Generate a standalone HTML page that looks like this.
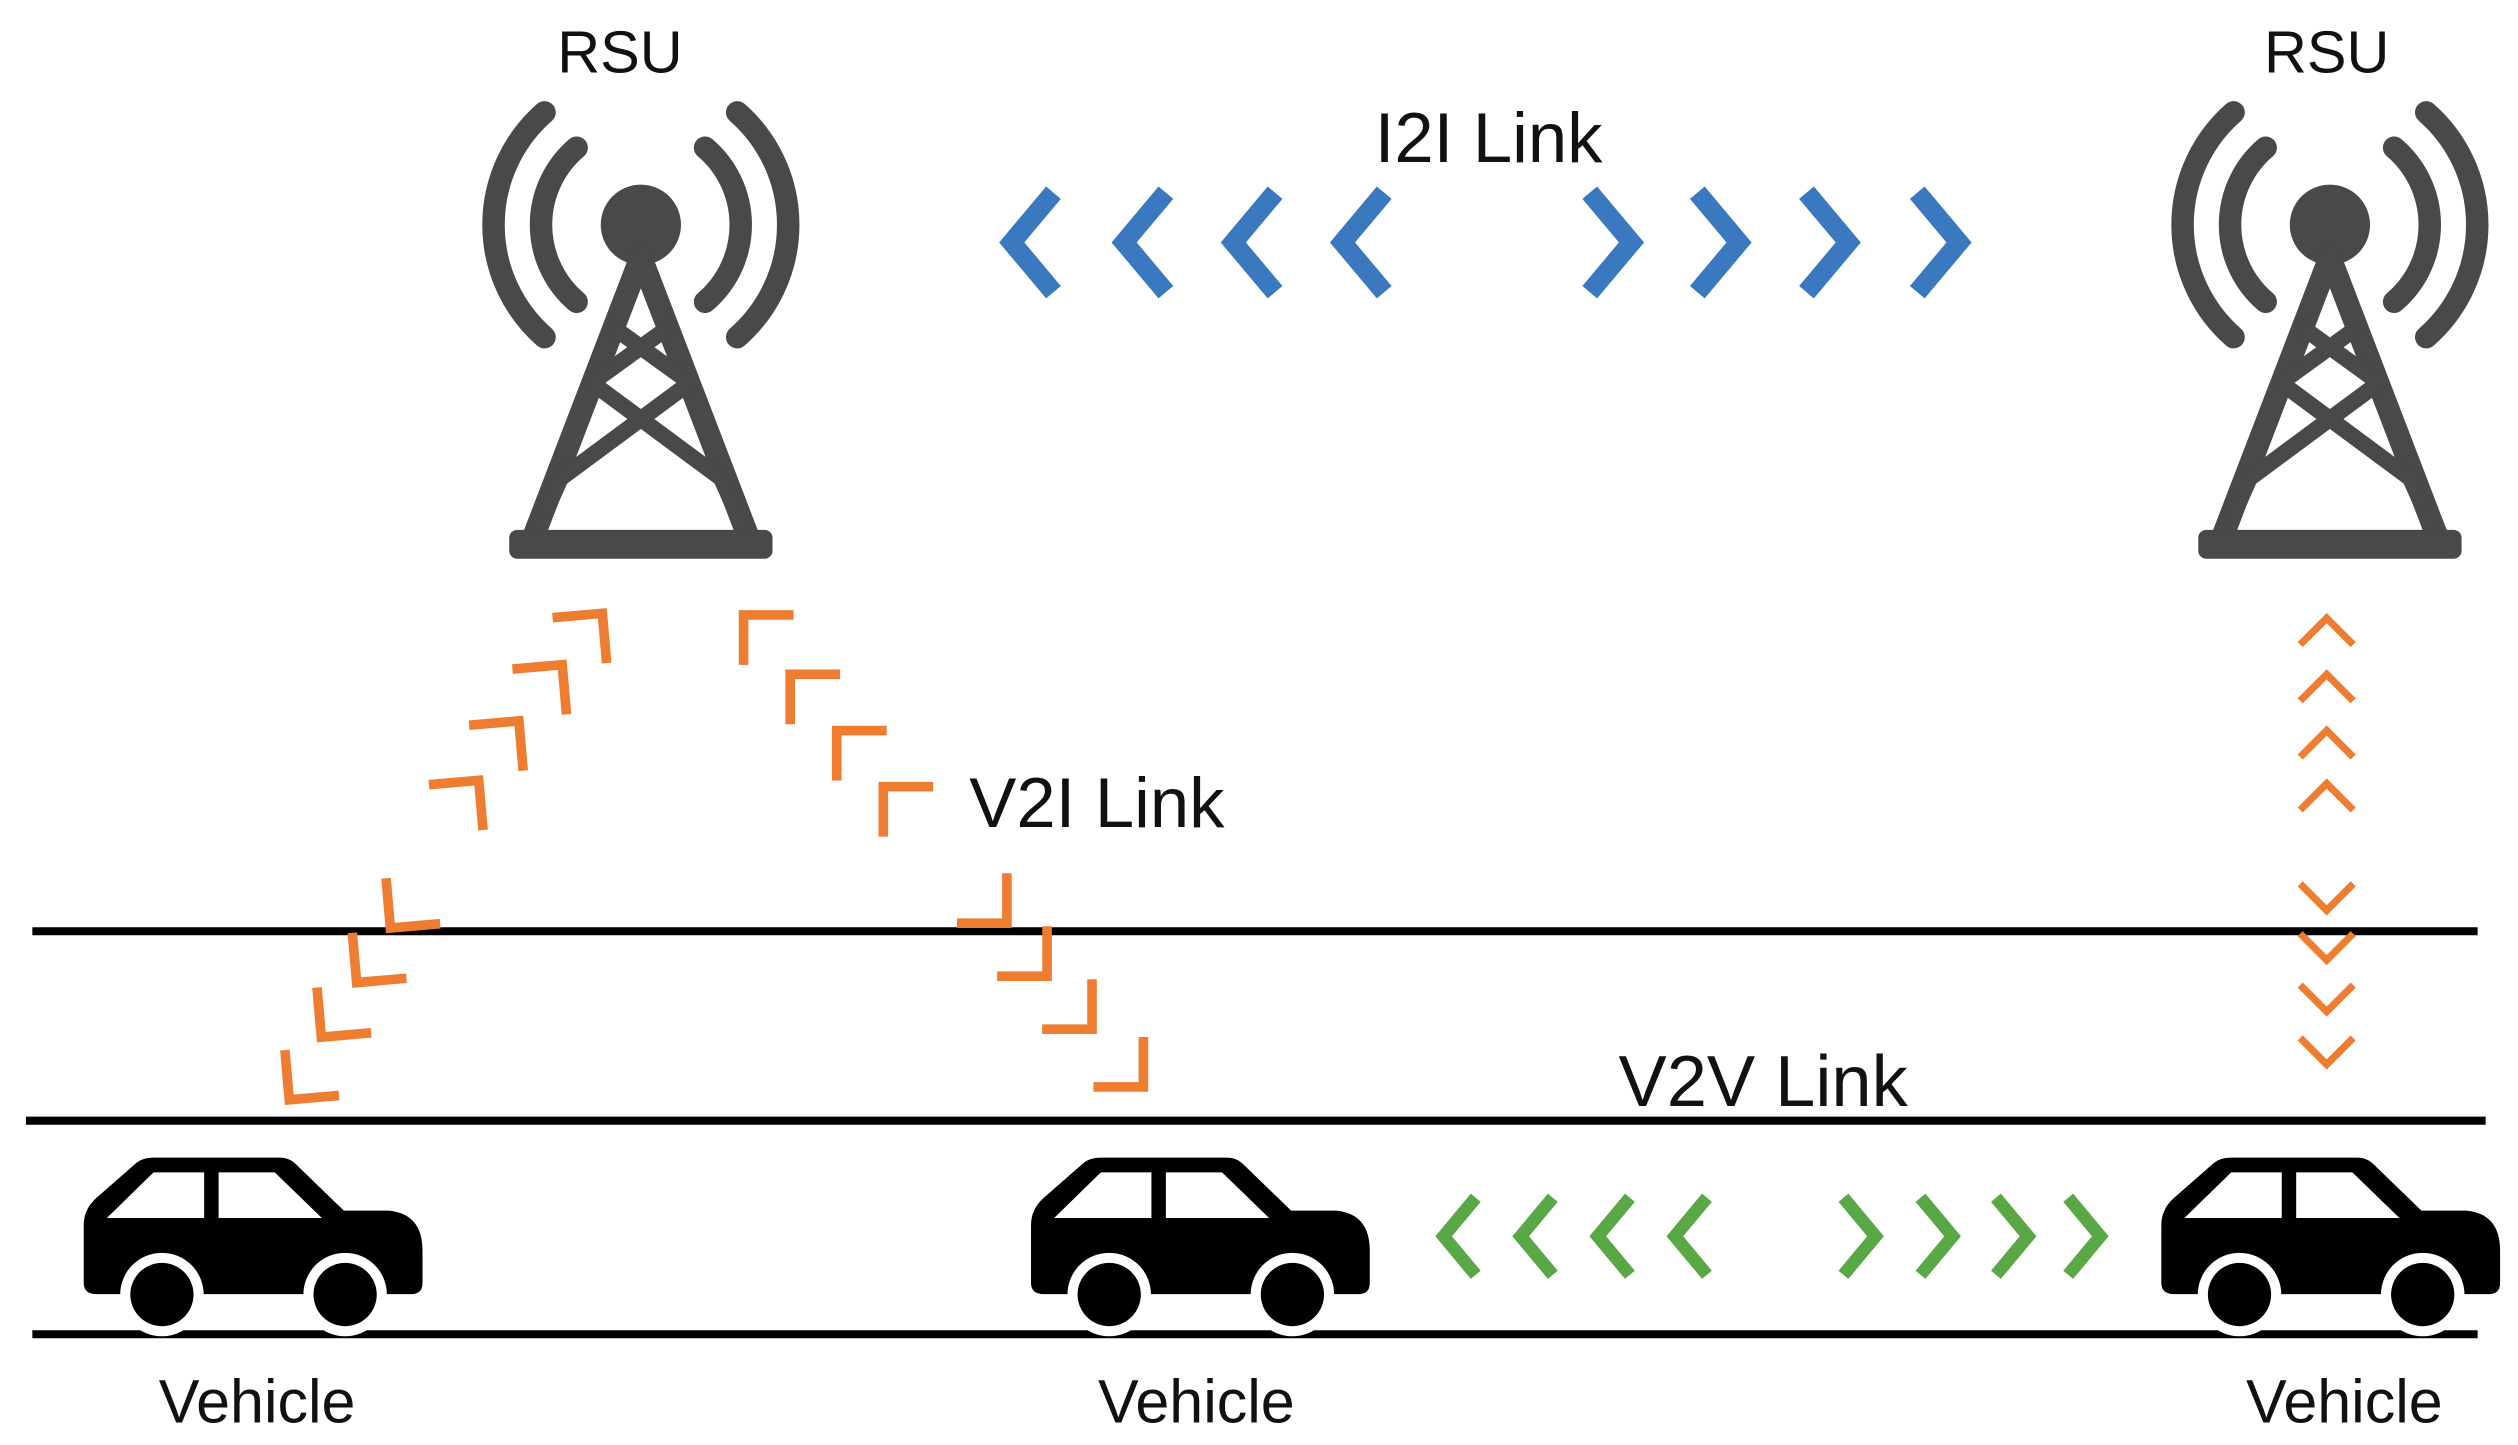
<!DOCTYPE html>
<html><head><meta charset="utf-8"><style>html,body{margin:0;padding:0;background:#fff}svg{display:block}</style></head>
<body>
<svg width="2518" height="1445" viewBox="0 0 1568 900" xmlns="http://www.w3.org/2000/svg" font-family="Liberation Sans, sans-serif">
<defs>
<g id="tower" fill="none" stroke="#48494b" stroke-linecap="round" stroke-linejoin="round">
  <circle cx="0" cy="0" r="25" fill="#48494b" stroke="none"/>
  <path d="M-40,-48 A63,63 0 0 0 -40,48" stroke-width="14"/>
  <path d="M40,-48 A63,63 0 0 1 40,48" stroke-width="14"/>
  <path d="M-60,-70 A93,93 0 0 0 -60,70" stroke-width="14"/>
  <path d="M60,-70 A93,93 0 0 1 60,70" stroke-width="14"/>
  <path d="M0,20 L-66,192 M0,20 L66,192" stroke-width="14"/>
  <path d="M-17,64 L30,98 M17,64 L-30,98 M-31,98 L50,158 M31,98 L-50,158 M-50,158 L-62,185 M50,158 L62,185" stroke-width="10"/>
  <rect x="-82" y="190" width="164" height="18" rx="5" fill="#48494b" stroke="none"/>
</g>
<g id="car">
  <path d="M0,42 Q0,32 8,25 L32,4 Q36,0 44,0 L122,0 Q128,0 132,4 L162,33 L190,33 Q211,35 211,58 L211,78 Q211,85 204,85 L8,85 Q0,85 0,78 Z" fill="#000"/>
  <polygon points="14.4,37.6 43.5,9.2 75,9.2 75,37.6" fill="#fff"/>
  <polygon points="84,9.2 119,9.2 148.3,37.6 84,37.6" fill="#fff"/>
  <circle cx="48.7" cy="85.3" r="26" fill="#fff"/>
  <circle cx="162.8" cy="85.3" r="26" fill="#fff"/>
  <circle cx="48.7" cy="85.3" r="19.7" fill="#000"/>
  <circle cx="162.8" cy="85.3" r="19.7" fill="#000"/>
</g>
<polyline id="chB" points="-26,-31 0,0 -26,31" fill="none" stroke="#3a78c0" stroke-width="12"/>
<polyline id="chG" points="-20,-24 0,0 -20,24" fill="none" stroke="#5aa845" stroke-width="8"/>
<polyline id="chO" points="-22,-22 0,0 -22,22" fill="none" stroke="#ef7d31" stroke-width="6"/>
</defs>

<g stroke="#000" stroke-width="5">
<line x1="20" y1="580" x2="1543" y2="580"/>
<line x1="16" y1="698" x2="1548" y2="698"/>
<line x1="20" y1="831" x2="1543" y2="831"/>
</g>

<use href="#tower" x="399" y="140"/>
<use href="#tower" x="1451" y="140"/>

<use href="#car" x="52" y="721"/>
<use href="#car" x="642" y="721"/>
<use href="#car" x="1346" y="721"/>

<g transform="translate(0,151)">
<use href="#chB" transform="translate(630,0) rotate(180)"/>
<use href="#chB" transform="translate(700,0) rotate(180)"/>
<use href="#chB" transform="translate(768,0) rotate(180)"/>
<use href="#chB" transform="translate(836,0) rotate(180)"/>
<use href="#chB" x="1016"/>
<use href="#chB" x="1083"/>
<use href="#chB" x="1151"/>
<use href="#chB" x="1220"/>
</g>
<g transform="translate(0,770)">
<use href="#chG" transform="translate(899,0) rotate(180)"/>
<use href="#chG" transform="translate(947,0) rotate(180)"/>
<use href="#chG" transform="translate(995,0) rotate(180)"/>
<use href="#chG" transform="translate(1043,0) rotate(180)"/>
<use href="#chG" x="1168"/>
<use href="#chG" x="1216"/>
<use href="#chG" x="1263"/>
<use href="#chG" x="1308"/>
</g>
<use href="#chO" transform="translate(375,382) rotate(-50)"/>
<use href="#chO" transform="translate(350,414) rotate(-50)"/>
<use href="#chO" transform="translate(323,449) rotate(-50)"/>
<use href="#chO" transform="translate(298,486) rotate(-50)"/>
<use href="#chO" transform="translate(243,578) rotate(130)"/>
<use href="#chO" transform="translate(222,612) rotate(130)"/>
<use href="#chO" transform="translate(200,646) rotate(130)"/>
<use href="#chO" transform="translate(180,685) rotate(130)"/>
<use href="#chO" transform="translate(463,383) rotate(-135)"/>
<use href="#chO" transform="translate(492,420) rotate(-135)"/>
<use href="#chO" transform="translate(521,455) rotate(-135)"/>
<use href="#chO" transform="translate(550,490) rotate(-135)"/>
<use href="#chO" transform="translate(627,575) rotate(45)"/>
<use href="#chO" transform="translate(652,608) rotate(45)"/>
<use href="#chO" transform="translate(680,641) rotate(45)"/>
<use href="#chO" transform="translate(712,677) rotate(45)"/>
<use href="#chO" transform="translate(1449,385) rotate(-90) scale(0.75)"/>
<use href="#chO" transform="translate(1449,420) rotate(-90) scale(0.75)"/>
<use href="#chO" transform="translate(1449,455) rotate(-90) scale(0.75)"/>
<use href="#chO" transform="translate(1449,488) rotate(-90) scale(0.75)"/>
<use href="#chO" transform="translate(1449,567) rotate(90) scale(0.75)"/>
<use href="#chO" transform="translate(1449,598) rotate(90) scale(0.75)"/>
<use href="#chO" transform="translate(1449,630) rotate(90) scale(0.75)"/>
<use href="#chO" transform="translate(1449,663) rotate(90) scale(0.75)"/>

<g fill="#111" text-anchor="middle">
<text x="386" y="45" font-size="37">RSU</text>
<text x="1449" y="45" font-size="37">RSU</text>
<text x="927" y="101" font-size="44">I2I Link</text>
<text x="683" y="515" font-size="44">V2I Link</text>
<text x="1098" y="689" font-size="45">V2V Link</text>
<text x="160" y="886" font-size="38">Vehicle</text>
<text x="745" y="886" font-size="38">Vehicle</text>
<text x="1460" y="886" font-size="38">Vehicle</text>
</g>
</svg>
</body></html>
